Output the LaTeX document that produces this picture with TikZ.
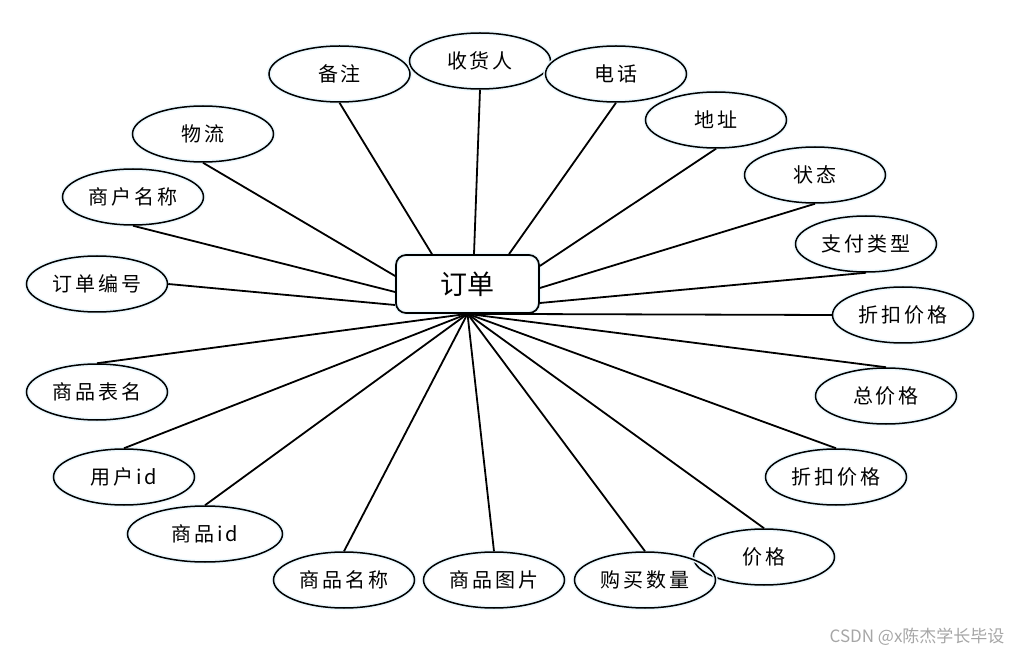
\documentclass[tikz,border=0pt]{standalone}
\usepackage{fontspec}
\newfontfamily\cjk{Noto Sans CJK SC}[LetterSpace=14]
\newfontfamily\cjkplain{Noto Sans CJK SC}
\usetikzlibrary{shapes.geometric}
\begin{document}
\begin{tikzpicture}[x=1pt,y=-1pt,
  attr/.style={draw, ellipse, line width=1.5pt, minimum width=141pt, minimum height=56pt,
    inner sep=0pt, font=\cjk\fontsize{20}{24}\selectfont,
    preaction={draw=cyan!8, line width=4.5pt}},
  entity/.style={draw, rounded corners=10pt, line width=1.7pt, minimum width=143pt,
    minimum height=58pt, inner sep=0pt, font=\cjkplain\fontsize{27}{30}\selectfont,
    preaction={draw=cyan!8, line width=4.5pt}},
  link/.style={line width=1.8pt},
  mark text/.style={font=\cjkplain\fontsize{17}{20}\selectfont, text=black!35}
]
\useasboundingbox (0,0) rectangle (1013,655);

\node[entity] (o) at (467.5,284) {订单};

\node[attr] (bz)  at (339.5,74) {备注};
\node[attr] (shr) at (480,61)   {收货人};
\node[attr] (dh)  at (616,74)   {电话};
\node[attr] (dz)  at (716,120)  {地址};
\node[attr] (zt)  at (815,175)  {状态};
\node[attr] (zf)  at (866,244)  {支付类型};
\node[attr] (zk1) at (903,315)  {折扣价格};
\node[attr] (zj)  at (886,396)  {总价格};
\node[attr] (zk2) at (836,477)  {折扣价格};
\node[attr] (jg)  at (764,557)  {价格};
\node[attr] (gm)  at (645,580)  {购买数量};
\node[attr] (tp)  at (494,580)  {商品图片};
\node[attr] (mc)  at (344,580)  {商品名称};
\node[attr, minimum width=155pt] (spid) at (205,534) {商品id};
\node[attr] (yh)  at (124,477)  {用户id};
\node[attr] (bm)  at (97,392)   {商品表名};
\node[attr] (bh)  at (97,284)   {订单编号};
\node[attr] (sh)  at (133,197)  {商户名称};
\node[attr] (wl)  at (203,134)  {物流};

% top connectors
\draw[link] (bz.south)  -- ([xshift=-35.5pt]o.north);
\draw[link] (shr.south) -- ([xshift=6.5pt]o.north);
\draw[link] (dh.south)  -- ([xshift=41.5pt]o.north);
\draw[link] (dz.south)  -- ([yshift=18pt]o.east);
\draw[link] (zt.south)  -- ([yshift=-4pt]o.east);
\draw[link] (zf.south)  -- ([yshift=-19pt]o.east);
% left connectors
\draw[link] (wl.south)  -- ([yshift=8pt]o.west);
\draw[link] (sh.south)  -- ([yshift=-8pt]o.west);
\draw[link] (bh.east)   -- ([yshift=-21pt]o.west);
% bottom fan
\draw[link] (zk1.west)  -- (o.south);
\draw[link] (zj.north)  -- (o.south);
\draw[link] (zk2.north) -- (o.south);
\draw[link] (jg.north)  -- (o.south);
\draw[link] (gm.north)  -- (o.south);
\draw[link] (tp.north)  -- (o.south);
\draw[link] (mc.north)  -- (o.south);
\draw[link] (spid.north) -- (o.south);
\draw[link] (yh.north)  -- (o.south);
\draw[link] (bm.north)  -- (o.south);

\node[mark text, anchor=east] (wm) at (1008,637) {CSDN @x陈杰学长毕设};
\end{tikzpicture}
\end{document}
